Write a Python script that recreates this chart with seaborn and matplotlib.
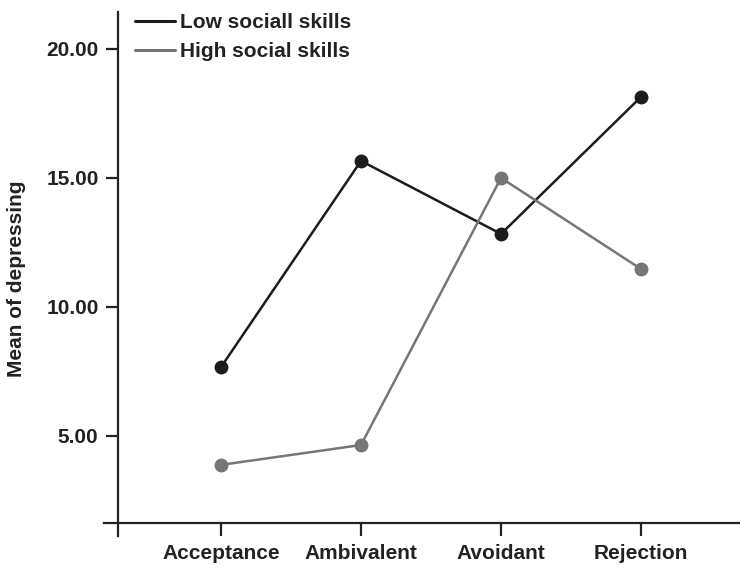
import matplotlib
matplotlib.use("Agg")
import matplotlib.pyplot as plt
from matplotlib.lines import Line2D
import pandas as pd
import seaborn as sns

# data
styles = ["Acceptance", "Ambivalent", "Avoidant", "Rejection"]
low_social = [7.67, 15.66, 12.83, 18.14]
high_social = [3.88, 4.65, 15.0, 11.47]
groups = ["Low sociall skills", "High social skills"]
colors = ["#1c1c1c", "#767676"]

df = pd.DataFrame({
    "style": styles * 2,
    "mean": low_social + high_social,
    "group": [groups[0]] * 4 + [groups[1]] * 4,
})

sns.set_style("white")
plt.rcParams["font.family"] = ["Liberation Sans", "DejaVu Sans"]
plt.rcParams["font.weight"] = "bold"

fig = plt.figure(figsize=(7.4, 5.71), dpi=100)
ax = fig.add_axes([0.1405, 0.0613, 0.8595, 0.9177])

sns.lineplot(data=df, x="style", y="mean", hue="group", palette=colors,
             marker="o", markersize=10, markeredgewidth=0, linewidth=1.8,
             sort=False, legend=False, ax=ax)

ax.set_xlim(-0.836, 3.707)
ax.set_ylim(1.124, 21.43)
ax.set_yticks([5, 10, 15, 20])
ax.set_yticklabels(["%.2f" % v for v in [5, 10, 15, 20]])
ax.set_xticks(range(len(styles)))
ax.set_xticklabels(styles)

for s in ["top", "right"]:
    ax.spines[s].set_visible(False)
ax.spines["left"].set_position(("data", -0.736))
ax.spines["bottom"].set_position(("data", 1.628))
ax.spines["left"].set_bounds(1.124, 21.43)
for s in ["left", "bottom"]:
    ax.spines[s].set_color("#222222")
    ax.spines[s].set_linewidth(1.6)

ax.tick_params(axis="y", direction="out", length=9, width=1.6, color="#222222",
               labelsize=15, pad=5, left=True)
ax.tick_params(axis="x", direction="out", length=9, width=1.6, color="#222222",
               labelsize=15, pad=6, bottom=True)
for lab in ax.get_xticklabels() + ax.get_yticklabels():
    lab.set_fontweight("bold")
    lab.set_color("#222222")

ax.set_xlabel("")
ax.set_ylabel("Mean of depressing", fontsize=15, fontweight="bold", color="#222222")
ax.yaxis.set_label_coords(-0.123, 0.49)

handles = [Line2D([0], [0], color=c, lw=2.2) for c in colors]
leg = ax.legend(handles, groups, loc="upper left", bbox_to_anchor=(0.020, 1.033),
                frameon=False, handlelength=1.9, handletextpad=0.25,
                labelspacing=0.45, prop={"weight": "bold", "size": 15})
for t in leg.get_texts():
    t.set_color("#222222")

fig.savefig("out.png", dpi=100)
